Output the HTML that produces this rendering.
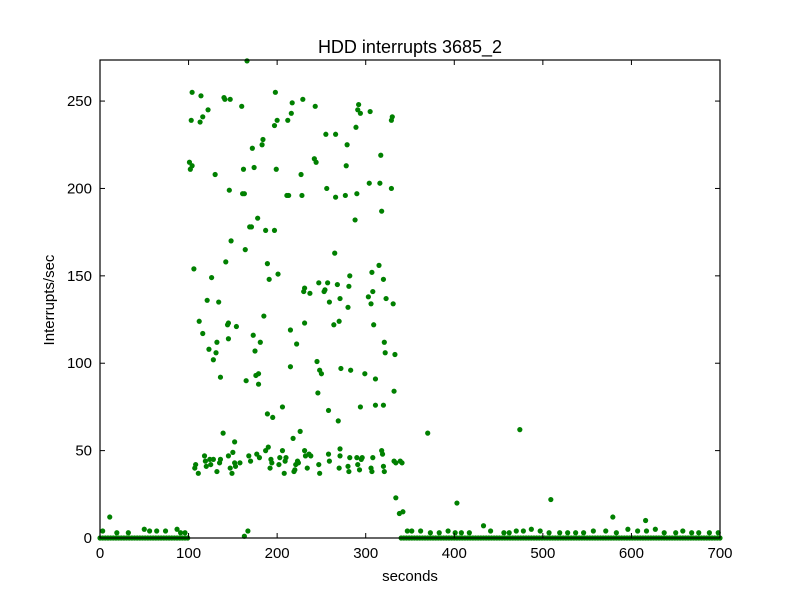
<!DOCTYPE html>
<html><head><meta charset="utf-8"><style>
body{margin:0;background:#fff;font-family:"Liberation Sans",sans-serif}
svg text{font-family:"Liberation Sans",sans-serif}
</style></head><body>
<svg id="chart" width="800" height="600">
<rect width="800" height="600" fill="#fff"/>
<text x="410" y="53" font-size="18" text-anchor="middle">HDD interrupts 3685_2</text>
<text x="410" y="581" font-size="15" text-anchor="middle">seconds</text>
<text x="54" y="300" font-size="15" text-anchor="middle" transform="rotate(-90 54 300)">Interrupts/sec</text>
<g id="marks"></g>
<g id="axes"></g>
</svg>
<script>
const xTicks=[0,100,200,300,400,500,600,700];
const yTicks=[0,50,100,150,200,250];
const xDomain=[0,700];
const yDomain=[0,273.5];
const times=[166,104,114,140,141,147,160,122,116,103,113,101,104,102,130,146,161,163,169,148,164,142,106,126,134,121,112,116,145,144,154,145,132,123,131,128,136,165,139,152,
198,217,229,243,292,291,294,305,330,329,216,212,200,197,255,266,289,279,317,184,183,172,242,244,278,162,174,199,227,304,316,329,256,266,277,290,211,213,228,318,288,178,171,187,197,265,189,315,191,201,247,257,268,282,307,320,231,230,237,254,253,281,308,303,323,271,259,306,331,
185,173,181,175,215,231,222,264,270,280,309,321,322,333,245,248,250,272,283,299,311,332,215,176,179,179,246,206,189,195,258,269,294,311,320,226,218,
107,108,111,118,119,120,124,125,128,132,135,136,145,147,149,150,152,153,158,168,170,177,180,187,190,192,193,194,202,203,206,208,209,210,219,220,221,223,224,231,232,234,236,238,247,248,258,259,270,271,271,280,281,282,290,291,293,295,296,306,307,308,318,319,320,321,332,334,
334,338,342,339,341,370,474,403,509,579,616,
3,11,19,32,50,56,64,74,87,91,96,163,167,347,352,362,373,383,393,401,408,417,433,441,456,462,470,478,487,497,507,519,528,537,546,557,571,583,596,607,617,627,637,650,658,668,676,688,698];
const values=[273,255,253,252,251,251,247,245,241,239,238,215,213,211,208,199,197,197,178,170,165,158,154,149,135,136,124,117,123,122,121,114,112,108,106,102,92,90,60,55,
255,249,251,247,248,245,243,244,241,239,243,239,239,236,231,231,235,225,219,228,225,223,217,215,213,211,212,211,208,203,203,200,200,195,196,197,196,196,196,187,182,183,178,176,176,163,157,156,148,151,146,146,145,150,152,148,143,141,140,142,141,144,141,138,137,137,135,134,134,
127,116,112,107,119,123,111,122,124,132,122,112,106,105,101,96,94,97,96,94,91,84,98,93,94,88,83,75,71,69,73,67,75,76,76,61,57,
40,42,37,47,44,41,45,42,45,38,43,45,47,40,37,49,43,41,43,47,44,48,46,50,52,40,45,43,42,46,50,37,44,46,38,39,42,44,43,50,47,40,48,47,42,37,48,44,40,51,47,41,38,46,46,42,39,45,46,40,38,46,50,48,41,38,44,43,
23,14,15,44,43,60,62,20,22,12,10,
4,12,3,3,5,4,4,4,5,3,3,1,4,4,4,4,3,3,4,3,3,3,7,4,3,3,4,4,5,4,3,3,3,3,3,4,4,3,5,4,4,5,3,3,4,3,3,3,3];
const zeroTimes=[0,3,6,9,12,15,18,21,24,27,30,33,36,39,42,45,48,51,54,57,60,63,66,69,72,75,78,81,84,87,90,93,96,99,
340,343,346,349,352,355,358,361,364,367,370,373,376,379,382,385,388,391,394,397,400,403,406,409,412,415,418,421,424,427,430,433,436,439,442,445,448,451,454,457,460,463,466,469,472,475,478,481,484,487,490,493,496,499,502,505,508,511,514,517,520,523,526,529,532,535,538,541,544,547,550,553,556,559,562,565,568,571,574,577,580,583,586,589,592,595,598,601,604,607,610,613,616,619,622,625,628,631,634,637,640,643,646,649,652,655,658,661,664,667,670,673,676,679,682,685,688,691,694,697,700];
const X0=100,X1=720,Y0=538,Y1=60;
const NS="http://www.w3.org/2000/svg";
function sx(v){return X0+(v-xDomain[0])/(xDomain[1]-xDomain[0])*(X1-X0);}
function sy(v){return Y0-(v-yDomain[0])/(yDomain[1]-yDomain[0])*(Y0-Y1);}
const marks=document.getElementById('marks');
function dot(t,v){
  const c=document.createElementNS(NS,'circle');
  c.setAttribute('cx',sx(t));c.setAttribute('cy',sy(v));c.setAttribute('r',2.6);
  c.setAttribute('fill','#008000');
  
  
  marks.appendChild(c);
}
for(let i=0;i<zeroTimes.length;i++)dot(zeroTimes[i],0);
for(let i=0;i<times.length;i++)dot(times[i],values[i]);
const axes=document.getElementById('axes');
const frame=document.createElementNS(NS,'rect');
frame.setAttribute('x',X0);frame.setAttribute('y',Y1);frame.setAttribute('width',X1-X0);frame.setAttribute('height',Y0-Y1);
frame.setAttribute('fill','none');frame.setAttribute('stroke','#000');frame.setAttribute('stroke-width','1.2');


axes.appendChild(frame);
function line(x1,y1,x2,y2){const l=document.createElementNS(NS,'line');l.setAttribute('x1',x1);l.setAttribute('y1',y1);l.setAttribute('x2',x2);l.setAttribute('y2',y2);l.setAttribute('stroke','#000');l.setAttribute('stroke-width','1');


axes.appendChild(l);}
function label(x,y,txt,anchor){const t=document.createElementNS(NS,'text');t.setAttribute('x',x);t.setAttribute('y',y);t.setAttribute('font-size','15');t.setAttribute('text-anchor',anchor);t.textContent=txt;


axes.appendChild(t);}
xTicks.forEach(v=>{const x=sx(v);line(x,Y0,x,Y0-5);line(x,Y1,x,Y1+5);label(x,Y0+20,String(v),'middle');});
yTicks.forEach(v=>{const y=sy(v);line(X0,y,X0+5,y);line(X1,y,X1-5,y);label(X0-8,y+5,String(v),'end');});
</script>
</body></html>
